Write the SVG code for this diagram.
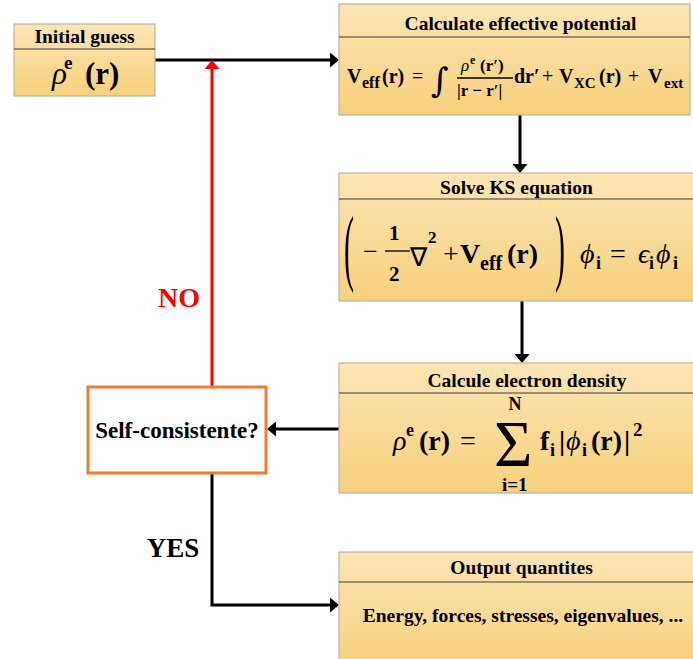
<svg xmlns="http://www.w3.org/2000/svg" width="693" height="659" viewBox="0 0 693 659">
<style>
.box{fill:url(#g);stroke:#bdb5a0;stroke-width:1.2}
.div{stroke:#3a3a3a;stroke-width:1.2}
.h{font-family:"Liberation Serif",serif;font-weight:bold;font-size:19.5px;text-anchor:middle;fill:#000}
.m{font-family:"Liberation Serif",serif;fill:#000}
.b{font-weight:bold;font-style:normal}
.r{font-weight:normal;font-style:normal}
.i{font-weight:normal;font-style:italic}
.c{fill:none;stroke:#000;stroke-width:3}
.red{fill:none;stroke:#ff0000;stroke-width:3}
.bar{stroke:#000;stroke-width:1.3}
</style>
<defs>
<linearGradient id="g" x1="0" y1="0" x2="0" y2="1">
<stop offset="0" stop-color="#fce5b6"/>
<stop offset="1" stop-color="#f7d07b"/>
</linearGradient>
<marker id="ab" viewBox="0 0 9 15" refX="0" refY="7.5" markerWidth="9" markerHeight="15" markerUnits="userSpaceOnUse" orient="auto">
<path d="M0,0 L9,7.5 L0,15 Z" fill="#000"/>
</marker>
<marker id="ar" viewBox="0 0 9 15" refX="0" refY="7.5" markerWidth="9" markerHeight="15" markerUnits="userSpaceOnUse" orient="auto">
<path d="M0,0 L9,7.5 L0,15 Z" fill="#ff0000"/>
</marker>
</defs>
<rect width="693" height="659" fill="#fff"/>

<g id="connectors">
<path class="c" d="M155,60 H330" marker-end="url(#ab)"/>
<path class="red" d="M212,386 V69" marker-end="url(#ar)"/>
<path class="c" d="M520,115 V164" marker-end="url(#ab)"/>
<path class="c" d="M522,301 V354" marker-end="url(#ab)"/>
<path class="c" d="M339,429 H276" marker-end="url(#ab)"/>
<path class="c" d="M212,474 V605 H330" marker-end="url(#ab)"/>
<text x="179" y="307" style="font-family:'Liberation Serif',serif;font-weight:bold;font-size:28px;fill:#ff0000;text-anchor:middle">NO</text>
<text x="173" y="557" style="font-family:'Liberation Serif',serif;font-weight:bold;font-size:27px;fill:#000;text-anchor:middle">YES</text>
</g>

<g id="initial-guess">
<rect class="box" x="14" y="24" width="141" height="72"/>
<line class="div" x1="14" y1="49" x2="155" y2="49"/>
<text class="h" x="84.5" y="43">Initial guess</text>
<text class="m" font-size="31"><tspan class="i" x="52" y="84">ρ</tspan><tspan class="b" x="64" y="69" font-size="19">e</tspan><tspan class="b" x="85" y="84">(r)</tspan></text>
</g>

<g id="effective-potential">
<rect class="box" x="339" y="4" width="351" height="111"/>
<line class="div" x1="339" y1="37" x2="690" y2="37"/>
<text class="h" x="520.5" y="30">Calculate effective potential</text>
<text class="m" font-size="20"><tspan class="b" x="347" y="83">V</tspan><tspan class="b" x="362" y="88" font-size="16">eff</tspan><tspan class="b" x="382" y="83">(r)</tspan><tspan class="r" x="412" y="83">=</tspan><tspan class="r" x="431" y="92" font-size="34" style="font-family:'DejaVu Serif',serif">∫</tspan><tspan class="i" x="461" y="71" font-size="17">ρ</tspan><tspan class="b" x="470" y="64" font-size="12">e</tspan><tspan class="b" x="480" y="71" font-size="17">(r′)</tspan><tspan class="b" x="457" y="96" font-size="17">|r − r′|</tspan><tspan class="b" x="514" y="83">dr′</tspan><tspan class="r" x="542" y="83">+</tspan><tspan class="b" x="559" y="83">V</tspan><tspan class="b" x="574" y="88" font-size="15">XC</tspan><tspan class="b" x="599" y="83">(r)</tspan><tspan class="r" x="628" y="83">+</tspan><tspan class="b" x="648" y="83">V</tspan><tspan class="b" x="664" y="88" font-size="15">ext</tspan></text>
<line class="bar" x1="457" y1="78" x2="513" y2="78"/>
</g>

<g id="ks-equation">
<rect class="box" x="339" y="173" width="360" height="128"/>
<line class="div" x1="339" y1="199" x2="699" y2="199"/>
<text class="h" x="516.5" y="194">Solve KS equation</text>
<text class="m r" font-size="30" transform="translate(344,275) scale(1,2.8)">(</text>
<text class="m" font-size="28"><tspan class="r" x="363" y="260" font-size="26">−</tspan><tspan class="b" x="389" y="240" font-size="21">1</tspan><tspan class="b" x="389" y="281" font-size="21">2</tspan><tspan class="r" x="410" y="266" font-size="26">∇</tspan><tspan class="b" x="428" y="243" font-size="17">2</tspan><tspan class="r" x="443" y="263">+</tspan><tspan class="b" x="460" y="263">V</tspan><tspan class="b" x="480" y="270" font-size="20">eff</tspan><tspan class="b" x="507" y="263">(r)</tspan></text>
<line class="bar" x1="385" y1="251" x2="410" y2="251"/>
<text class="m r" font-size="30" transform="translate(555,275) scale(1,2.8)">)</text>
<text class="m" font-size="28"><tspan class="i" x="580" y="263">ϕ</tspan><tspan class="b" x="596" y="269" font-size="18">i</tspan><tspan class="r" x="610" y="263">=</tspan><tspan class="i" x="638" y="263">ϵ</tspan><tspan class="b" x="649" y="269" font-size="18">i</tspan><tspan class="i" x="656" y="263">ϕ</tspan><tspan class="b" x="673" y="269" font-size="18">i</tspan></text>
</g>

<g id="electron-density">
<rect class="box" x="339" y="363" width="360" height="130"/>
<line class="div" x1="339" y1="393" x2="699" y2="393"/>
<text class="h" x="527" y="387">Calcule electron density</text>
<text class="m" font-size="28"><tspan class="i" x="393" y="450">ρ</tspan><tspan class="b" x="406" y="436" font-size="18">e</tspan><tspan class="b" x="419" y="450">(r)</tspan><tspan class="r" x="460" y="450">=</tspan><tspan class="r" x="494" y="466" font-size="66">Σ</tspan><tspan class="b" x="508.5" y="410" font-size="18">N</tspan><tspan class="b" x="502" y="491" font-size="19">i=1</tspan><tspan class="b" x="540" y="450">f</tspan><tspan class="b" x="550" y="456" font-size="18">i</tspan><tspan class="b" x="559" y="450">|</tspan><tspan class="i" x="566" y="450">ϕ</tspan><tspan class="b" x="582" y="456" font-size="18">i</tspan><tspan class="b" x="591" y="450">(r)</tspan><tspan class="b" x="624" y="450">|</tspan><tspan class="b" x="633" y="436" font-size="19">2</tspan></text>
</g>

<g id="output">
<rect class="box" x="339" y="552" width="360" height="120"/>
<line class="div" x1="339" y1="582" x2="699" y2="582"/>
<text class="h" x="521.5" y="574">Output quantites</text>
<text class="h" x="523" y="622">Energy, forces, stresses, eigenvalues, ...</text>
</g>

<g id="self-consistent">
<rect x="88" y="387" width="178" height="86" fill="#fff" stroke="#ed7d31" stroke-width="3"/>
<text x="177" y="438" style="font-family:'Liberation Serif',serif;font-weight:bold;font-size:23px;fill:#000;text-anchor:middle">Self-consistente?</text>
</g>
</svg>
